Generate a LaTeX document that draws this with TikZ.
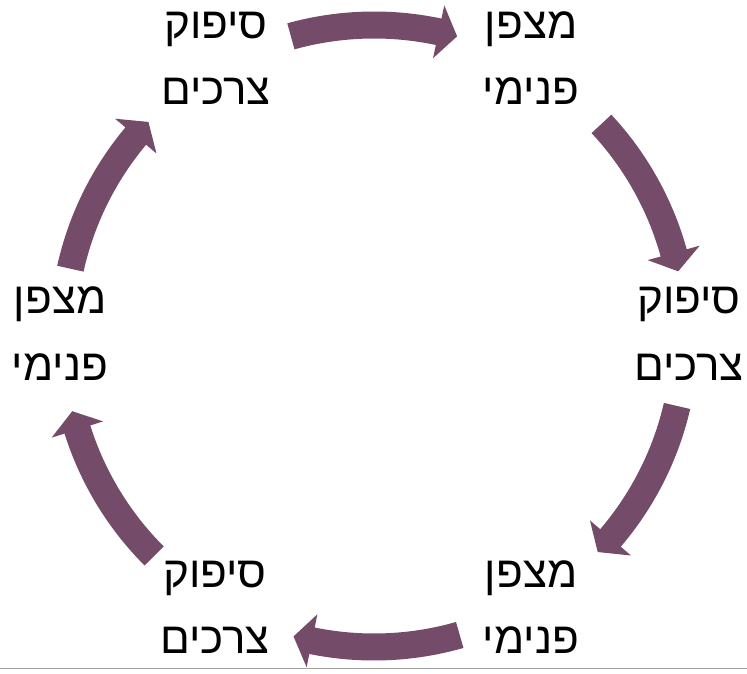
\documentclass[tikz,border=0pt]{standalone}
\usepackage{fontspec}
\newfontfamily\hebfont[Script=Hebrew]{Liberation Sans}
\TeXXeTstate=1
\definecolor{arrowcol}{RGB}{116,75,105}
\definecolor{rulegray}{RGB}{160,160,160}
\begin{document}
\begin{tikzpicture}[x=1pt,y=1pt,
  lbl/.style={font=\hebfont\fontsize{44}{66}\selectfont, align=center, inner sep=0pt, anchor=base},
  cyc/.style={fill=arrowcol}]
\useasboundingbox (0,0) rectangle (747,673);
% bottom rule
\draw[rulegray, line width=1.5pt] (0,4.5) -- (747,4.5);
% circular block arrows
\coordinate (C) at (374,337);
\foreach \c in {90,27.5,-28.5,-89.5,-150.5,152}{
  \fill[cyc, shift={(C)}]
    (\c+15.5:297.5) -- (\c+15.5:324.5)
    arc[start angle=\c+15.5, end angle=\c-12, radius=324.5]
    -- (\c-12:338) -- (\c-15.5:311) -- (\c-12:284) -- (\c-12:297.5)
    arc[start angle=\c-12, end angle=\c+15.5, radius=297.5] -- cycle;
}
% labels (base anchor = baseline of the last line)
\node[lbl] (tl) at (216,568) {\beginR סיפוק\endR\\\beginR צרכים\endR};
\node[lbl] (tr) at (531,568) {\beginR מצפן\endR\\\beginR פנימי\endR};
\node[lbl] (r)  at (689,293) {\beginR סיפוק\endR\\\beginR צרכים\endR};
\node[lbl] (br) at (531,20)  {\beginR מצפן\endR\\\beginR פנימי\endR};
\node[lbl] (bl) at (215,20)  {\beginR סיפוק\endR\\\beginR צרכים\endR};
\node[lbl] (l)  at (60,293)  {\beginR מצפן\endR\\\beginR פנימי\endR};
\end{tikzpicture}
\end{document}
